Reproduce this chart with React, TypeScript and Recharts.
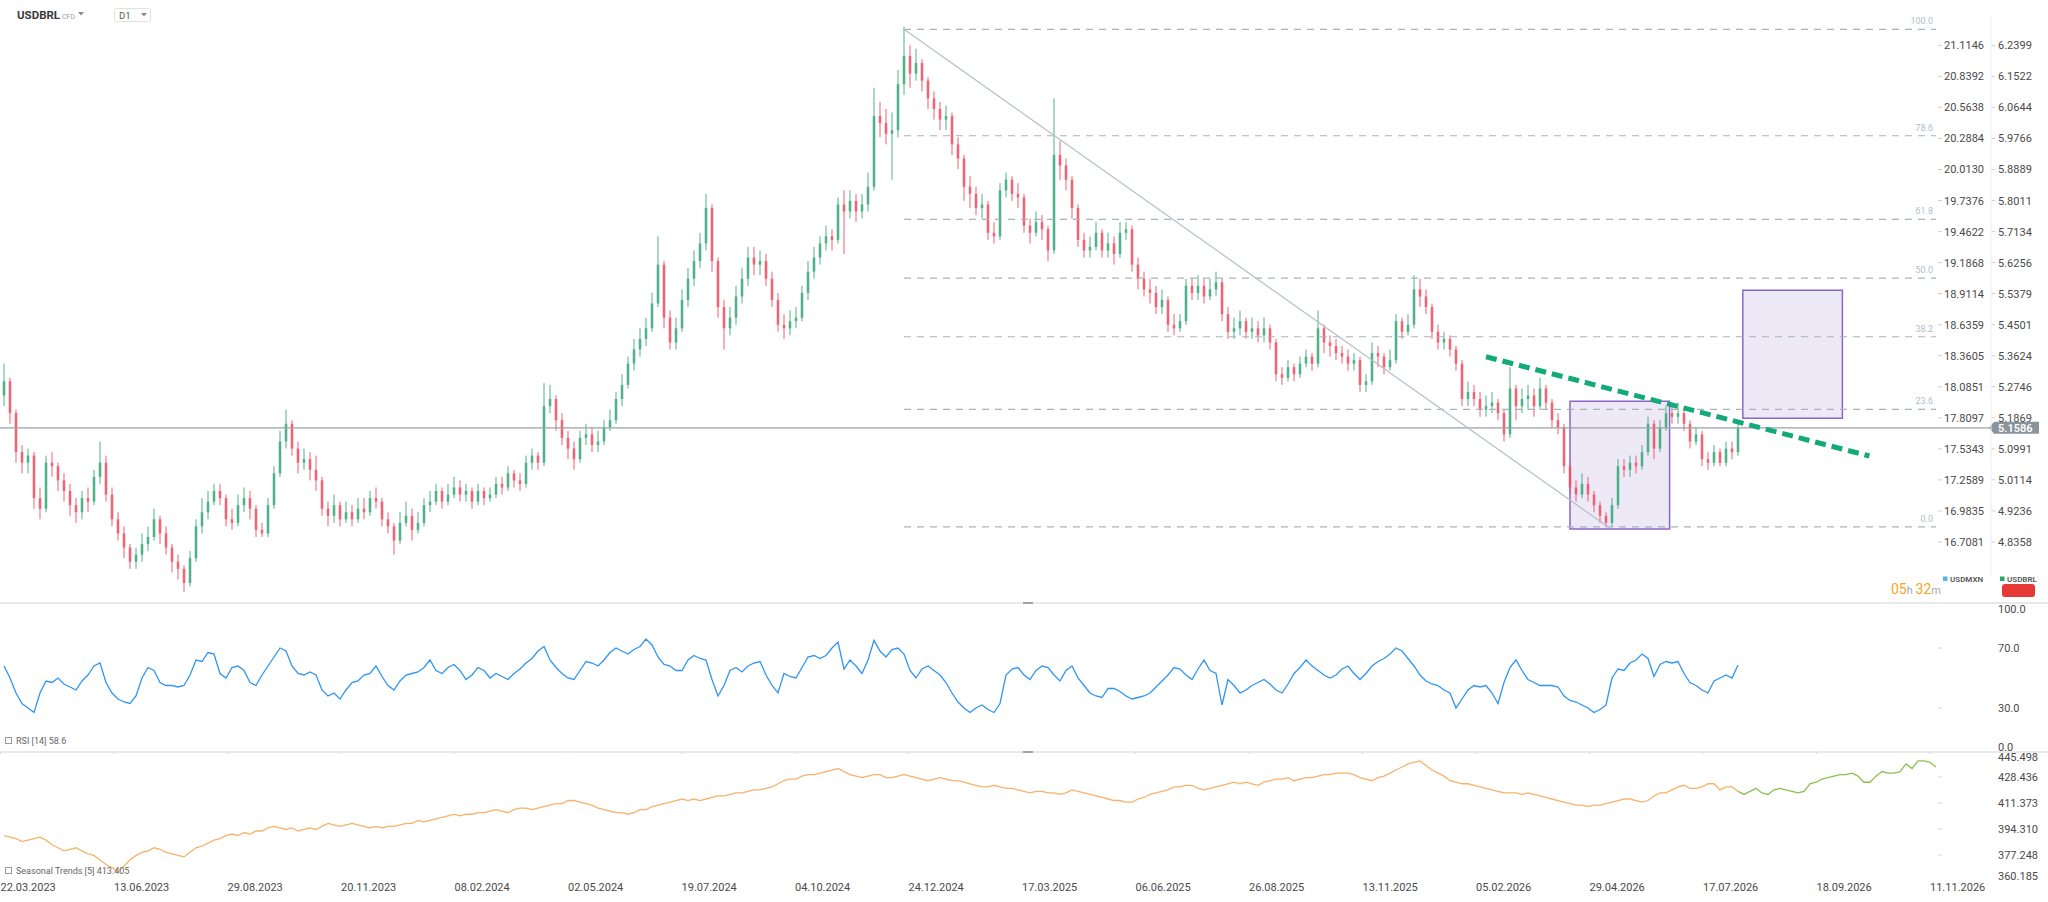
import React from 'react';
import {
  ComposedChart, LineChart, Line, Bar, XAxis, YAxis,
  ReferenceLine, ReferenceArea, ReferenceDot,
} from 'recharts';

// ---------- DATA ----------
const firstOpen = 5.25;
const closes = [
  5.29,5.20,5.09,5.06,5.08,4.96,4.93,5.06,5.05,5.01,
  4.98,4.94,4.92,4.96,4.95,5.02,5.06,4.97,4.90,4.86,
  4.82,4.78,4.80,4.83,4.85,4.90,4.86,4.82,4.78,4.76,
  4.72,4.79,4.88,4.92,4.95,4.98,4.96,4.90,4.89,4.94,
  4.96,4.93,4.87,4.86,4.94,5.03,5.12,5.17,5.10,5.06,
  5.07,5.04,5.01,4.93,4.91,4.94,4.90,4.92,4.90,4.93,
  4.92,4.96,4.95,4.90,4.88,4.84,4.89,4.91,4.87,4.89,
  4.94,4.95,4.98,4.95,4.97,4.99,4.97,4.98,4.95,4.98,
  4.96,4.97,5.00,4.99,5.03,5.01,5.00,5.06,5.08,5.06,
  5.22,5.24,5.18,5.13,5.10,5.07,5.13,5.14,5.11,5.12,
  5.16,5.18,5.24,5.28,5.34,5.38,5.41,5.44,5.51,5.62,
  5.47,5.40,5.44,5.52,5.58,5.63,5.68,5.78,5.63,5.50,
  5.44,5.47,5.53,5.58,5.64,5.62,5.63,5.58,5.52,5.45,
  5.44,5.46,5.47,5.54,5.60,5.64,5.68,5.70,5.69,5.79,
  5.77,5.80,5.77,5.79,5.84,6.04,6.02,5.99,6.00,6.13,
  6.21,6.16,6.19,6.14,6.09,6.06,6.03,6.04,5.96,5.92,
  5.84,5.82,5.78,5.79,5.71,5.70,5.83,5.86,5.82,5.81,
  5.73,5.71,5.74,5.72,5.66,5.93,5.90,5.86,5.78,5.69,
  5.66,5.67,5.71,5.66,5.68,5.65,5.71,5.72,5.62,5.58,
  5.55,5.54,5.50,5.52,5.45,5.44,5.46,5.56,5.54,5.56,
  5.53,5.55,5.57,5.48,5.43,5.44,5.46,5.43,5.44,5.42,
  5.44,5.40,5.31,5.30,5.33,5.31,5.34,5.36,5.34,5.44,
  5.40,5.39,5.37,5.36,5.34,5.35,5.28,5.29,5.37,5.36,
  5.33,5.35,5.46,5.43,5.45,5.55,5.53,5.50,5.43,5.40,
  5.41,5.38,5.34,5.24,5.26,5.24,5.21,5.22,5.23,5.20,
  5.14,5.27,5.22,5.24,5.25,5.22,5.27,5.23,5.18,5.16,
  5.05,4.99,4.97,5.00,4.97,4.94,4.91,4.89,4.94,5.05,
  5.04,5.06,5.05,5.09,5.17,5.10,5.16,5.20,5.19,5.20,
  5.17,5.12,5.14,5.07,5.06,5.09,5.06,5.10,5.09,5.1586,
];
const highs = [
  5.34,5.30,5.21,5.11,5.10,5.09,4.99,5.08,5.09,5.06,
  5.03,5.00,4.96,4.98,4.99,5.04,5.12,5.08,4.99,4.92,
  4.88,4.83,4.82,4.86,4.88,4.93,4.91,4.88,4.83,4.80,
  4.77,4.81,4.90,4.96,4.98,5.00,5.00,4.97,4.93,4.97,
  4.99,4.98,4.94,4.89,4.96,5.05,5.15,5.21,5.18,5.12,
  5.10,5.09,5.08,5.02,4.95,4.97,4.95,4.95,4.94,4.96,
  4.96,4.98,4.99,4.96,4.92,4.89,4.92,4.95,4.93,4.92,
  4.96,4.98,5.00,4.99,5.00,5.02,5.01,5.00,4.99,5.00,
  4.99,4.99,5.02,5.02,5.05,5.04,5.03,5.08,5.10,5.09,
  5.285,5.28,5.25,5.20,5.15,5.12,5.15,5.17,5.16,5.15,
  5.18,5.21,5.26,5.31,5.36,5.41,5.44,5.47,5.54,5.70,
  5.63,5.49,5.47,5.55,5.61,5.66,5.71,5.82,5.79,5.64,
  5.52,5.50,5.56,5.61,5.67,5.67,5.66,5.65,5.60,5.54,
  5.48,5.49,5.50,5.56,5.63,5.67,5.70,5.73,5.72,5.81,
  5.83,5.83,5.82,5.82,5.88,6.12,6.08,6.06,6.05,6.17,
  6.2925,6.24,6.23,6.20,6.15,6.11,6.08,6.07,6.05,5.98,
  5.93,5.87,5.84,5.82,5.80,5.74,5.85,5.88,5.87,5.85,
  5.82,5.75,5.77,5.76,5.73,6.09,5.97,5.92,5.87,5.79,
  5.71,5.70,5.74,5.72,5.71,5.70,5.74,5.74,5.73,5.64,
  5.60,5.58,5.56,5.55,5.53,5.48,5.48,5.58,5.58,5.59,
  5.58,5.58,5.60,5.58,5.50,5.47,5.49,5.47,5.47,5.46,
  5.47,5.45,5.41,5.33,5.35,5.34,5.36,5.38,5.37,5.49,
  5.45,5.42,5.41,5.39,5.38,5.37,5.36,5.31,5.40,5.39,
  5.37,5.38,5.48,5.47,5.48,5.59,5.58,5.55,5.51,5.45,
  5.43,5.42,5.39,5.35,5.29,5.28,5.26,5.25,5.26,5.24,
  5.21,5.33,5.28,5.27,5.28,5.27,5.30,5.28,5.24,5.20,
  5.17,5.06,5.01,5.03,5.02,4.98,4.95,4.92,4.96,5.07,
  5.07,5.08,5.08,5.11,5.19,5.18,5.18,5.22,5.23,5.23,
  5.21,5.18,5.16,5.15,5.09,5.11,5.10,5.12,5.12,5.17,
];
const lows = [
  5.22,5.17,5.06,5.03,5.03,4.93,4.90,4.92,5.02,4.98,
  4.95,4.91,4.89,4.90,4.92,4.94,5.00,4.95,4.88,4.84,
  4.79,4.76,4.76,4.78,4.81,4.84,4.83,4.80,4.75,4.73,
  4.695,4.71,4.78,4.86,4.90,4.94,4.94,4.88,4.87,4.88,
  4.92,4.90,4.85,4.85,4.85,4.93,5.02,5.10,5.08,5.03,
  5.04,5.01,4.98,4.91,4.88,4.89,4.88,4.89,4.88,4.89,
  4.90,4.91,4.93,4.88,4.86,4.80,4.83,4.88,4.84,4.86,
  4.88,4.92,4.94,4.93,4.94,4.96,4.95,4.95,4.93,4.94,
  4.94,4.95,4.96,4.97,4.98,4.99,4.98,4.99,5.04,5.04,
  5.05,5.20,5.15,5.11,5.07,5.04,5.06,5.11,5.09,5.09,
  5.11,5.15,5.17,5.22,5.27,5.32,5.36,5.39,5.43,5.50,
  5.44,5.38,5.38,5.43,5.50,5.56,5.61,5.66,5.60,5.47,
  5.38,5.42,5.45,5.51,5.56,5.59,5.59,5.56,5.50,5.43,
  5.41,5.42,5.44,5.46,5.52,5.58,5.62,5.66,5.66,5.68,
  5.65,5.75,5.74,5.75,5.77,5.83,5.98,5.96,5.86,5.98,
  6.10,6.12,6.14,6.11,6.06,6.03,6.00,6.00,5.93,5.89,
  5.80,5.78,5.76,5.75,5.69,5.68,5.69,5.81,5.80,5.78,
  5.71,5.68,5.70,5.69,5.63,5.65,5.86,5.83,5.75,5.67,
  5.64,5.64,5.66,5.64,5.64,5.62,5.64,5.69,5.60,5.55,
  5.53,5.51,5.48,5.48,5.43,5.42,5.43,5.45,5.52,5.52,
  5.51,5.52,5.53,5.46,5.41,5.41,5.42,5.41,5.41,5.40,
  5.40,5.38,5.29,5.28,5.29,5.29,5.30,5.33,5.32,5.33,
  5.37,5.36,5.35,5.34,5.32,5.32,5.26,5.26,5.28,5.33,
  5.31,5.32,5.34,5.41,5.42,5.44,5.50,5.48,5.41,5.38,
  5.38,5.36,5.32,5.22,5.22,5.22,5.19,5.19,5.20,5.18,
  5.12,5.13,5.18,5.20,5.21,5.19,5.21,5.21,5.16,5.14,
  5.03,4.97,4.95,4.96,4.95,4.92,4.89,4.878,4.88,4.93,
  5.02,5.02,5.03,5.04,5.08,5.07,5.09,5.15,5.17,5.17,
  5.15,5.10,5.11,5.05,5.04,5.05,5.05,5.05,5.07,5.08,
];
const rsiValues = [
  58,50,40,33,30,27,40,48,47,50,
  46,44,42,48,52,58,60,47,40,36,
  34,33,38,50,57,55,47,45,45,44,
  45,52,62,61,67,66,53,50,57,58,
  55,47,45,52,58,64,70,68,58,53,
  52,54,52,42,38,40,36,42,47,48,
  52,53,58,51,45,42,48,52,53,54,
  57,62,55,53,57,59,55,49,52,57,
  55,50,53,51,49,53,56,60,63,68,
  71,62,57,53,50,49,55,61,60,58,
  62,67,70,68,66,69,71,76,72,64,
  59,58,55,55,62,65,63,62,49,38,
  45,55,57,54,58,60,61,52,45,40,
  53,51,50,57,64,65,63,65,70,74,
  56,62,58,53,62,75,68,64,69,70,
  66,55,50,56,58,55,52,47,40,34,
  30,27,30,32,29,27,33,52,56,57,
  52,49,55,58,57,52,48,55,58,50,
  45,40,38,37,43,43,41,38,36,37,
  38,40,44,48,52,57,56,52,49,56,
  62,55,53,32,49,45,40,42,45,47,
  49,46,42,40,46,53,57,62,58,55,
  52,50,52,56,58,53,49,53,58,61,
  63,66,70,68,63,58,52,48,46,45,
  42,40,30,36,42,45,44,45,40,33,
  47,57,62,55,49,47,45,45,45,44,
  38,35,34,32,30,27,29,32,50,56,
  55,60,62,66,63,51,59,61,60,61,
  53,47,45,42,40,48,50,52,50,58.6,
];
const seasonalValues = [
  390,389,388,386,387,388,389,387,384,382,
  380,381,382,380,378,377,374,371,369,366,
  370,374,377,379,380,382,381,379,378,377,
  376,379,382,383,385,387,388,390,391,390,
  392,391,393,393,395,396,395,394,395,393,
  394,395,394,396,398,397,396,397,398,397,
  396,395,396,395,396,396,397,398,398,400,
  399,400,401,402,403,404,403,404,404,405,
  405,406,407,406,405,407,408,408,407,408,
  409,410,411,411,413,413,412,411,410,408,
  407,406,405,405,404,405,407,407,409,410,
  411,412,413,414,413,414,413,414,415,416,
  416,417,418,418,419,420,420,421,422,424,
  426,427,427,429,430,430,431,432,433,434,
  432,430,429,428,429,430,430,428,428,429,
  430,429,428,427,426,427,428,427,426,426,
  425,424,423,422,422,423,422,421,421,420,
  419,418,419,419,418,418,417,418,420,419,
  418,417,416,415,414,413,413,412,412,414,
  415,417,418,419,420,422,422,423,423,421,
  420,421,422,423,424,425,424,425,424,423,
  425,426,427,427,428,426,427,428,428,429,
  430,430,431,431,431,430,428,427,426,428,
  429,431,433,435,437,438,439,436,433,431,
  429,426,425,424,424,423,422,421,420,419,
  418,418,418,417,418,417,416,415,414,413,
  412,411,410,410,409,410,410,411,412,413,
  414,414,413,412,413,416,418,418,420,422,
  423,421,421,422,424,424,420,422,422,419,
  417,419,421,418,417,420,421,420,419,418,
  419,424,425,427,428,429,430,430,431,429,
  425,425,429,432,431,431,432,437,434,439,
  439,438,435,
];
const forecastStart = 289;

const brlTicks = [6.2399,6.1522,6.0644,5.9766,5.8889,5.8011,5.7134,5.6256,5.5379,5.4501,5.3624,5.2746,5.1869,5.0991,5.0114,4.9236,4.8358];
const mxnTicks = ['21.1146','20.8392','20.5638','20.2884','20.0130','19.7376','19.4622','19.1868','18.9114','18.6359','18.3605','18.0851','17.8097','17.5343','17.2589','16.9835','16.7081'];
const rsiTicks = [0, 30, 70, 100];
const seasonalTicks = [360.185, 377.248, 394.31, 411.373, 428.436, 445.498];
const dateLabels = ['22.03.2023','13.06.2023','29.08.2023','20.11.2023','08.02.2024','02.05.2024','19.07.2024','04.10.2024','24.12.2024','17.03.2025','06.06.2025','26.08.2025','13.11.2025','05.02.2026','29.04.2026','17.07.2026','18.09.2026','11.11.2026'];
const dateTickPos = [-0.58,18.33,37.25,56.17,75.08,94.0,112.92,131.83,150.75,169.67,188.58,207.5,226.42,245.33,264.25,283.17,302.08,321.0];

const fibLevels = [
  { label: '100.0', value: 6.2851 },
  { label: '78.6', value: 5.9842 },
  { label: '61.8', value: 5.7479 },
  { label: '50.0', value: 5.582 },
  { label: '38.2', value: 5.416 },
  { label: '23.6', value: 5.2107 },
  { label: '0.0', value: 4.8788 },
];
const fibStart = 150;
const fibEnd = 322;
const diagonal = [{ x: 150, y: 6.2851 }, { x: 267.3, y: 4.8788 }];
const trendLine = [{ x: 247, y: 5.3596 }, { x: 310.9, y: 5.0789 }];
const boxes = [
  { x1: 261, x2: 277.6, y1: 4.8726, y2: 5.234 },
  { x1: 289.8, x2: 306.4, y1: 5.1855, y2: 5.5473 },
];
const lastPrice = 5.1586;

// ---------- TABLES ----------
const candles = closes.map((c, i) => ({
  i,
  open: i === 0 ? firstOpen : closes[i - 1],
  close: c,
  high: highs[i],
  low: lows[i],
  range: [lows[i], highs[i]],
}));
const rsiData = rsiValues.map((v, i) => ({ i, rsi: v }));
const seasonalData = seasonalValues.map((v, i) => ({
  i,
  past: i <= forecastStart ? v : null,
  future: i >= forecastStart ? v : null,
}));

const X_DOMAIN: [number, number] = [-0.667, 322.333];
const FONT = 'Roboto, "Noto Sans", sans-serif';
const GREEN = '#3aa878';
const RED = '#ef4f60';
const TXT = '#4a4a4a';

const Candle = (props: any) => {
  const { x, y, width, height, payload } = props;
  if (!payload || !isFinite(y) || !isFinite(height)) return null;
  const { open, close, high, low } = payload;
  const k = height / (high - low);
  const cx = x + width / 2;
  const top = y + (high - Math.max(open, close)) * k;
  const bot = y + (high - Math.min(open, close)) * k;
  const color = close >= open ? GREEN : RED;
  return (
    <g>
      <line x1={cx} x2={cx} y1={y} y2={y + height} stroke={color} strokeWidth={1} strokeOpacity={0.9} />
      <rect x={cx - 1.3} y={top} width={2.6} height={Math.max(1, bot - top)} fill={color} fillOpacity={0.8} />
    </g>
  );
};

const MainTick = (props: any) => {
  const { x, y, payload } = props;
  const idx = brlTicks.indexOf(payload.value);
  return (
    <g fontFamily={FONT} fontSize={11} fill={TXT}>
      <line x1={x} x2={x + 4} y1={y} y2={y} stroke="#cfcfcf" />
      <text x={x + 6} y={y + 4}>{mxnTicks[idx]}</text>
      <line x1={x + 53} x2={x + 57} y1={y} y2={y} stroke="#cfcfcf" />
      <text x={x + 60} y={y + 4}>{payload.value.toFixed(4)}</text>
    </g>
  );
};

const RsiTick = (props: any) => {
  const { x, y, payload } = props;
  const v = payload.value;
  const dy = v === 100 ? 10 : v === 0 ? -2 : 4;
  return (
    <g fontFamily={FONT} fontSize={11} fill={TXT}>
      {v !== 100 && v !== 0 && <line x1={x} x2={x + 4} y1={y} y2={y} stroke="#d6d6d6" />}
      <text x={x + 60} y={y + dy}>{v.toFixed(1)}</text>
    </g>
  );
};

const SeasonalTick = (props: any) => {
  const { x, y, payload } = props;
  const v = payload.value;
  const dy = v === seasonalTicks[5] ? 10 : v === seasonalTicks[0] ? -1 : 4;
  const edge = v === seasonalTicks[5] || v === seasonalTicks[0];
  return (
    <g fontFamily={FONT} fontSize={11} fill={TXT}>
      {!edge && <line x1={x} x2={x + 4} y1={y} y2={y} stroke="#d6d6d6" />}
      <text x={x + 60} y={y + dy}>{v.toFixed(3)}</text>
    </g>
  );
};

const DateTick = (props: any) => {
  const { x, y, payload } = props;
  const idx = dateTickPos.indexOf(payload.value);
  return (
    <g>
      <line x1={x} x2={x} y1={y - 130} y2={y - 127} stroke="#d6d6d6" />
      <text x={x} y={y + 10} fontFamily={FONT} fontSize={11} fill={TXT} textAnchor="start">{dateLabels[idx]}</text>
    </g>
  );
};

const PriceLabel = (props: any) => {
  const { cx, cy } = props;
  return (
    <g>
      <line x1={cx} x2={cx + 52} y1={cy} y2={cy} stroke="#9aa2aa" strokeWidth={1.3} />
      <polygon points={`${cx + 51},${cy} ${cx + 56},${cy - 6} ${cx + 101},${cy - 6} ${cx + 101},${cy + 6} ${cx + 56},${cy + 6}`} fill="#8b939b" />
      <text x={cx + 60} y={cy + 4} fontFamily={FONT} fontSize={11} fontWeight={600} fill="#ffffff">{lastPrice.toFixed(4)}</text>
    </g>
  );
};

export default function App() {
  return (
    <div style={{ position: 'absolute', left: 0, top: 0, width: 2048, height: 902, background: '#fff', overflow: 'hidden', fontFamily: FONT }}>
      {/* MAIN PRICE PANEL */}
      <div style={{ position: 'absolute', left: 0, top: 0 }}>
        <ComposedChart width={2048} height={603} data={candles} margin={{ top: 0, right: 0, bottom: 0, left: 0 }}>
          <XAxis dataKey="i" type="number" domain={X_DOMAIN} allowDataOverflow hide />
          <YAxis yAxisId="brl" orientation="right" width={110} type="number" domain={[4.6634, 6.368]} allowDataOverflow
            ticks={brlTicks} interval={0} tick={(p: any) => <MainTick {...p} />} tickLine={false} axisLine={false} tickSize={0} tickMargin={0} />
          {boxes.map((b, k) => (
            <ReferenceArea key={'b' + k} yAxisId="brl" x1={b.x1} x2={b.x2} y1={b.y1} y2={b.y2}
              fill="#7e57c2" fillOpacity={0.13} stroke="#7e57c2" strokeWidth={1.5} strokeOpacity={0.9} ifOverflow="visible" />
          ))}
          {fibLevels.map((f) => (
            <ReferenceLine key={'f' + f.label} yAxisId="brl" segment={[{ x: fibStart, y: f.value }, { x: fibEnd, y: f.value }]}
              stroke="#a9b3bd" strokeWidth={1.2} strokeDasharray="7 6" ifOverflow="visible" />
          ))}
          {fibLevels.map((f) => (
            <ReferenceDot key={'fl' + f.label} yAxisId="brl" x={fibEnd} y={f.value} r={0} ifOverflow="visible"
              shape={(p: any) => <text x={p.cx - 3} y={p.cy - 5} textAnchor="end" fontFamily={FONT} fontSize={9} fill="#b3bcc6">{f.label}</text>} />
          ))}
          <ReferenceLine yAxisId="brl" y={lastPrice} stroke="#9aa2aa" strokeWidth={1.3} ifOverflow="visible" />
          <ReferenceLine yAxisId="brl" segment={diagonal} stroke="#b5bfc9" strokeWidth={1.2} ifOverflow="visible" />
          <Bar yAxisId="brl" dataKey="range" shape={Candle} barSize={4} isAnimationActive={false} />
          <ReferenceLine yAxisId="brl" segment={trendLine} stroke="#14a978" strokeWidth={5} strokeDasharray="11 6" ifOverflow="visible" />
          <ReferenceDot yAxisId="brl" x={X_DOMAIN[1]} y={lastPrice} r={0} ifOverflow="visible" shape={(p: any) => <PriceLabel {...p} />} />
        </ComposedChart>
      </div>

      {/* RSI PANEL */}
      <div style={{ position: 'absolute', left: 0, top: 603 }}>
        <LineChart width={2048} height={150} data={rsiData} margin={{ top: 0, right: 0, bottom: 0, left: 0 }}>
          <XAxis dataKey="i" type="number" domain={X_DOMAIN} allowDataOverflow hide />
          <YAxis orientation="right" width={110} type="number" domain={[0, 100]} ticks={rsiTicks} interval={0}
            tick={(p: any) => <RsiTick {...p} />} tickLine={false} axisLine={false} tickSize={0} tickMargin={0} />
          <Line dataKey="rsi" type="linear" stroke="#2f95f3" strokeWidth={1.3} dot={false} isAnimationActive={false} />
        </LineChart>
      </div>

      {/* SEASONAL PANEL */}
      <div style={{ position: 'absolute', left: 0, top: 751 }}>
        <LineChart width={2048} height={151} data={seasonalData} margin={{ top: 0, right: 0, bottom: 0, left: 0 }}>
          <XAxis dataKey="i" type="number" domain={X_DOMAIN} allowDataOverflow ticks={dateTickPos} interval={0}
            tick={(p: any) => <DateTick {...p} />} tickLine={false} axisLine={false} height={21} tickSize={0} tickMargin={0} />
          <YAxis orientation="right" width={110} type="number" domain={[360.185, 445.498]} ticks={seasonalTicks} interval={0}
            tick={(p: any) => <SeasonalTick {...p} />} tickLine={false} axisLine={false} tickSize={0} tickMargin={0} />
          <Line dataKey="past" type="linear" stroke="#f7b36b" strokeWidth={1.3} dot={false} isAnimationActive={false} connectNulls={false} />
          <Line dataKey="future" type="linear" stroke="#8cc152" strokeWidth={1.3} dot={false} isAnimationActive={false} connectNulls={false} />
        </LineChart>
      </div>

      {/* OVERLAY: header, legend, separators */}
      <svg width={2048} height={902} style={{ position: 'absolute', left: 0, top: 0, pointerEvents: 'none' }} fontFamily={FONT}>
        <text x={17} y={19} fontSize={11.5} fontWeight={700} fill="#3a3a3a">USDBRL</text>
        <text x={62} y={19} fontSize={7} fill="#a0a0a0">CFD</text>
        <path d="M78 12 L84 12 L81 15.5 Z" fill="#8a8a8a" />
        <rect x={114.5} y={8.5} width={36} height={13} rx={2} fill="#fff" stroke="#e2e2e2" />
        <text x={119} y={19} fontSize={9.5} fill="#555">D1</text>
        <path d="M141 13 L147 13 L144 16.5 Z" fill="#8a8a8a" />

        <line x1={1991} x2={1991} y1={15} y2={575} stroke="#efefef" />

        <rect x={1943} y={576.5} width={4.5} height={4.5} fill="#4fb6f0" />
        <text x={1950} y={582} fontSize={8} fontWeight={600} fill="#555">USDMXN</text>
        <rect x={2000} y={576.5} width={4.5} height={4.5} fill="#2aa866" />
        <text x={2007} y={582} fontSize={8} fontWeight={600} fill="#555">USDBRL</text>
        <rect x={2002} y={584} width={33} height={13} rx={3} fill="#e53935" />

        <text x={1891} y={594}>
          <tspan fontSize={14} fill="#f5a623">05</tspan>
          <tspan fontSize={11} fill="#a8a8a8">h </tspan>
          <tspan fontSize={14} fill="#f5a623">32</tspan>
          <tspan fontSize={11} fill="#a8a8a8">m</tspan>
        </text>

        <line x1={0} x2={2048} y1={603} y2={603} stroke="#e2e2e2" strokeWidth={1.5} />
        <line x1={0} x2={2048} y1={752} y2={752} stroke="#e2e2e2" strokeWidth={1.5} />
        <line x1={1023} x2={1033} y1={603} y2={603} stroke="#8a8a8a" strokeWidth={1.5} />
        <line x1={1023} x2={1033} y1={752} y2={752} stroke="#8a8a8a" strokeWidth={1.5} />

        <rect x={5.5} y={737.5} width={6} height={6} fill="none" stroke="#9a9a9a" />
        <text x={16} y={744} fontSize={9} fill="#666">RSI [14] 58.6</text>
        <rect x={5.5} y={867.5} width={6} height={6} fill="none" stroke="#9a9a9a" />
        <text x={16} y={874} fontSize={9} fill="#666">Seasonal Trends [5] 413.405</text>
      </svg>
    </div>
  );
}
